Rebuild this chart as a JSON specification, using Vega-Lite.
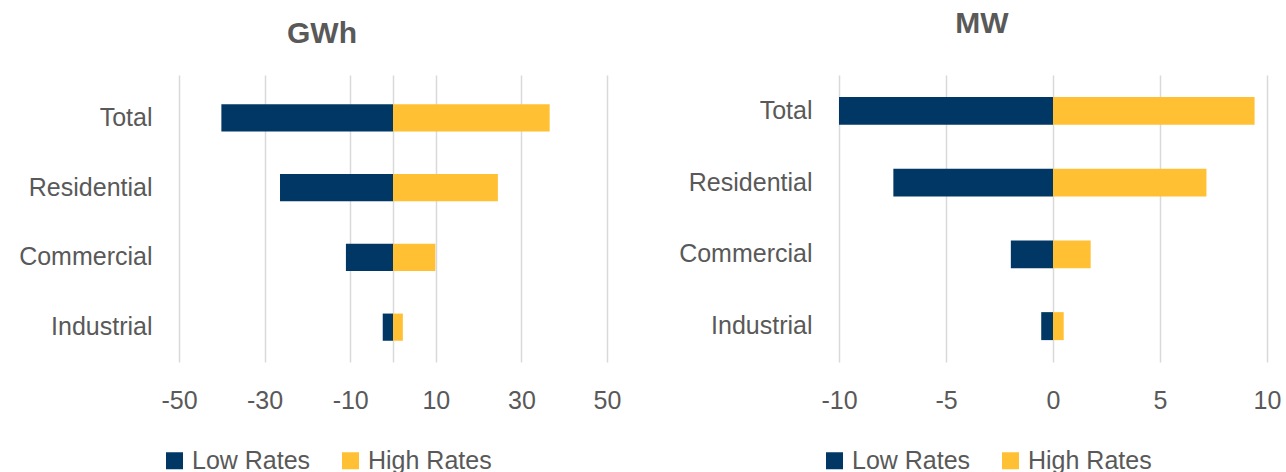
{
  "$schema": "https://vega.github.io/schema/vega-lite/v6.json",
  "padding": {"left": 10, "top": 9, "right": 0, "bottom": 0},
  "background": "white",
  "config": {
    "view": {"stroke": null},
    "font": "Liberation Sans",
    "axis": {"labelColor": "#595959", "labelFontSize": 25, "domain": false, "ticks": false, "title": null, "gridColor": "#d9d9d9", "gridWidth": 1.5, "labelFlush": false, "labelOverlap": false},
    "legend": {"labelColor": "#595959", "labelFontSize": 25, "title": null, "symbolType": "square", "symbolSize": 289, "symbolStrokeWidth": 0, "direction": "horizontal", "orient": "none", "columnPadding": 27, "labelOffset": 5, "padding": 0},
    "title": {"color": "#595959", "fontSize": 30, "fontWeight": "bold", "dx": -71}
  },
  "datasets": {
    "gwh": [
      {"category": "Total", "series": "Low Rates", "value": -40.1},
      {"category": "Total", "series": "High Rates", "value": 36.6},
      {"category": "Residential", "series": "Low Rates", "value": -26.4},
      {"category": "Residential", "series": "High Rates", "value": 24.5},
      {"category": "Commercial", "series": "Low Rates", "value": -11.0},
      {"category": "Commercial", "series": "High Rates", "value": 9.9},
      {"category": "Industrial", "series": "Low Rates", "value": -2.4},
      {"category": "Industrial", "series": "High Rates", "value": 2.3}
    ],
    "mw": [
      {"category": "Total", "series": "Low Rates", "value": -10.0},
      {"category": "Total", "series": "High Rates", "value": 9.42},
      {"category": "Residential", "series": "Low Rates", "value": -7.46},
      {"category": "Residential", "series": "High Rates", "value": 7.17},
      {"category": "Commercial", "series": "Low Rates", "value": -1.97},
      {"category": "Commercial", "series": "High Rates", "value": 1.76},
      {"category": "Industrial", "series": "Low Rates", "value": -0.55},
      {"category": "Industrial", "series": "High Rates", "value": 0.5}
    ]
  },
  "spacing": 57,
  "hconcat": [
    {
      "title": {"text": "GWh", "offset": 26},
      "width": 428,
      "height": 287,
      "data": {"name": "gwh"},
      "mark": {"type": "bar"},
      "encoding": {
        "y": {"field": "category", "type": "nominal", "sort": ["Total", "Residential", "Commercial", "Industrial"],
              "scale": {"paddingInner": 0.61, "paddingOuter": 0.3625, "align": 0.58},
              "axis": {"labelPadding": 27, "minExtent": 169, "maxExtent": 169}},
        "x": {"field": "value", "type": "quantitative", "stack": null,
              "scale": {"domain": [-50, 50], "nice": false},
              "axis": {"values": [-50, -30, -10, 0, 10, 30, 50], "labelExpr": "datum.value == 0 ? '' : '' + datum.value", "labelPadding": 26}},
        "color": {"field": "series", "type": "nominal",
                  "scale": {"domain": ["Low Rates", "High Rates"], "range": ["#003764", "#FFC033"]},
                  "legend": {"legendX": -17, "legendY": 373}}
      }
    },
    {
      "title": {"text": "MW", "offset": 36},
      "width": 428,
      "height": 287,
      "data": {"name": "mw"},
      "mark": {"type": "bar"},
      "encoding": {
        "y": {"field": "category", "type": "nominal", "sort": ["Total", "Residential", "Commercial", "Industrial"],
              "scale": {"paddingInner": 0.61, "paddingOuter": 0.305},
              "axis": {"labelPadding": 27}},
        "x": {"field": "value", "type": "quantitative", "stack": null,
              "scale": {"domain": [-10, 10], "nice": false},
              "axis": {"values": [-10, -5, 0, 5, 10], "labelExpr": "'' + datum.value", "labelPadding": 26}},
        "color": {"field": "series", "type": "nominal",
                  "scale": {"domain": ["Low Rates", "High Rates"], "range": ["#003764", "#FFC033"]},
                  "legend": {"legendX": -17, "legendY": 373}}
      }
    }
  ],
  "resolve": {"scale": {"color": "independent"}, "legend": {"color": "independent"}}
}
